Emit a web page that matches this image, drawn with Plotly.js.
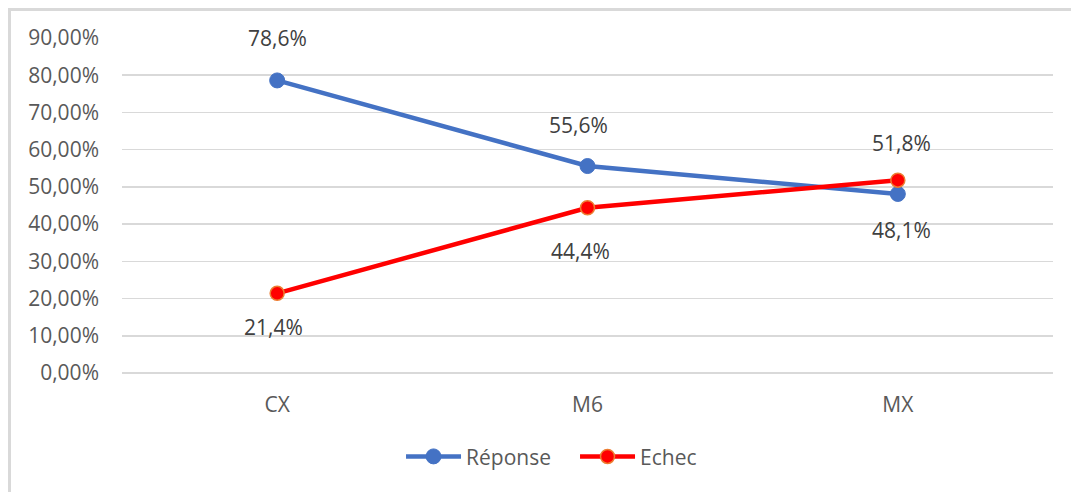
<!DOCTYPE html>
<html>
<head>
<meta charset="utf-8">
<script src="https://cdn.plot.ly/plotly-3.0.1.min.js"></script>
<style>
  html, body { margin: 0; padding: 0; background: #ffffff; overflow: hidden; }
  #chart { position: absolute; left: 0; top: 0; width: 1071px; height: 492px; }
  #frame { position: absolute; left: 8px; top: 8px; width: 2000px; height: 2000px;
           border-left: 3px solid #d9d9d9; border-top: 3px solid #d9d9d9; pointer-events: none; }
</style>
</head>
<body>
<div id="chart"></div>
<div id="frame"></div>
<script>
// ---- data ----
const categories = ["CX", "M6", "MX"];
const reponseValues = [0.786, 0.556, 0.481];
const echecValues = [0.214, 0.444, 0.518];
const seriesNames = ["Réponse", "Echec"];

// ---- label placement (px offsets from points) ----
const reponseLabelShift = [[0, 42], [-9, 41], [4, -36]];
const echecLabelShift = [[-4, -34], [-7, -43], [4, 37]];

const FONT = "'Open Sans', 'Noto Sans', sans-serif";
const FS = 21;
const fmt = v => (v * 100).toFixed(1).replace('.', ',') + '%';

const traces = [
  {
    x: categories, y: reponseValues, name: seriesNames[0], type: 'scatter', mode: 'lines+markers',
    line: { color: '#4472C4', width: 4.5 },
    marker: { color: '#4472C4', size: 15, line: { color: '#4472C4', width: 1 } },
    hoverinfo: 'skip'
  },
  {
    x: categories, y: echecValues, name: seriesNames[1], type: 'scatter', mode: 'lines+markers',
    line: { color: '#FF0000', width: 4.5 },
    marker: { color: '#FF0000', size: 14, line: { color: '#ED7D31', width: 1.5 } },
    hoverinfo: 'skip'
  }
];

const annotations = [];
function addLabels(vals, shifts) {
  vals.forEach((v, i) => {
    annotations.push({
      x: categories[i], y: v, xref: 'x', yref: 'y', text: fmt(v), showarrow: false,
      xshift: shifts[i][0], yshift: shifts[i][1],
      font: { family: FONT, size: FS, color: '#404040' }
    });
  });
}
addLabels(reponseValues, reponseLabelShift);
addLabels(echecValues, echecLabelShift);

const layout = {
  width: 1071, height: 492,
  margin: { l: 122, r: 18, t: 38, b: 119 },
  paper_bgcolor: '#ffffff', plot_bgcolor: '#ffffff',
  separators: ', ',
  font: { family: FONT, size: FS, color: '#595959' },
  showlegend: true,
  legend: {
    orientation: 'h', xref: 'paper', yref: 'paper', x: 0.4866, xanchor: 'center', y: -0.25, yanchor: 'middle',
    font: { family: FONT, size: FS, color: '#595959' }, itemwidth: 55, entrywidth: 104, traceorder: 'normal'
  },
  xaxis: {
    type: 'category', range: [-0.5, 2.5], showgrid: false, zeroline: false, showline: false,
    ticks: '', ticklabelstandoff: 17, tickfont: { family: FONT, size: FS, color: '#595959' }, fixedrange: true
  },
  yaxis: {
    range: [0, 0.9], dtick: 0.1, tick0: 0, tickformat: '.2%', showgrid: true, gridcolor: '#d9d9d9', gridwidth: 1.5,
    zeroline: true, zerolinecolor: '#d9d9d9', zerolinewidth: 1.5, showline: false, ticks: '',
    ticklabelstandoff: 22, tickfont: { family: FONT, size: FS, color: '#595959' }, fixedrange: true
  },
  annotations: annotations
};

Plotly.newPlot('chart', traces, layout, { staticPlot: true, displayModeBar: false });
</script>
</body>
</html>
